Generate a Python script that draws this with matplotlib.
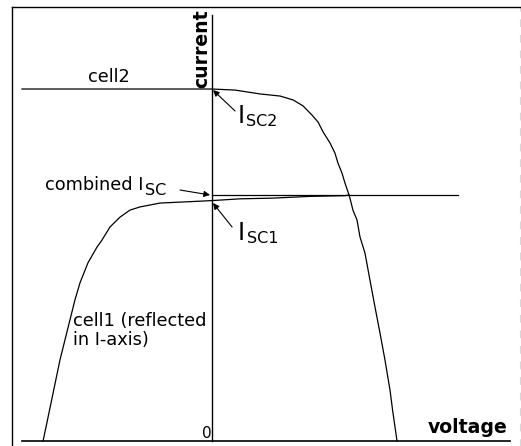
import numpy as np
import matplotlib
matplotlib.use('Agg')
import matplotlib.pyplot as plt

plt.rcParams['font.family'] = ['DejaVu Sans']

# cell2 I-V curve (voltage, current), current normalised to Isc2 = 1
cell2_v = [-1.024, 0.0, 0.126, 0.261, 0.369, 0.439, 0.493, 0.541, 0.574, 0.601, 0.638,
           0.665, 0.681, 0.703, 0.719, 0.736, 0.746, 0.762, 0.784, 0.800, 0.827,
           0.854, 0.881, 0.908, 0.935, 0.962, 0.978, 1.0]
cell2_i = [1.0, 1.0, 0.997, 0.986, 0.980, 0.969, 0.952, 0.926, 0.906, 0.878, 0.847,
           0.818, 0.790, 0.761, 0.733, 0.707, 0.690, 0.656, 0.628, 0.580, 0.534,
           0.457, 0.381, 0.307, 0.230, 0.145, 0.080, 0.0]

# cell1 curve reflected in the current axis
cell1_v = [-0.910, -0.856, -0.819, -0.792, -0.765, -0.738, -0.711, -0.668, -0.619,
           -0.592, -0.549, -0.495, -0.441, -0.387, -0.279, -0.117, 0.0, 0.153,
           0.331, 0.530, 0.719, 0.742]
cell1_i = [0.0, 0.136, 0.230, 0.287, 0.344, 0.401, 0.449, 0.506, 0.551,
           0.571, 0.608, 0.636, 0.656, 0.665, 0.676, 0.680, 0.683, 0.688,
           0.690, 0.695, 0.697, 0.699]

isc_combined = 0.699
comb_v_end = 1.329

fig = plt.figure(figsize=(5.21, 4.46), dpi=100)
ax = fig.add_axes([12/521, 0, 508/521, 439/446])
ax.set_xlim(-1.0777, 1.6636)
ax.set_ylim(-0.0142, 1.2330)
ax.set_xticks([])
ax.set_yticks([])
ax.spines['bottom'].set_visible(False)
ax.spines['left'].set_linewidth(1.0)
ax.spines['top'].set_linewidth(1.0)
ax.spines['right'].set_color('#d8d8d8')
ax.spines['right'].set_linestyle((0, (6, 8)))

# axes of the I-V plane
ax.plot([-1.024, 1.61], [0, 0], color='black', lw=1.2)
ax.plot([0, 0], [0, 1.21], color='black', lw=1.0)

ax.plot(cell2_v, cell2_i, color='black', lw=0.9)
ax.plot(cell1_v, cell1_i, color='black', lw=0.9)
ax.plot([0, comb_v_end], [isc_combined, isc_combined], color='black', lw=0.9)

arrow = dict(arrowstyle='-|>', lw=0.8, color='black', mutation_scale=9, shrinkA=0, shrinkB=0)
ax.annotate('', xy=(-0.009, isc_combined), xytext=(-0.171, 0.713), arrowprops=arrow)
ax.annotate('', xy=(0.007, 0.997), xytext=(0.126, 0.9375), arrowprops=arrow)
ax.annotate('', xy=(0.007, 0.676), xytext=(0.110, 0.608), arrowprops=arrow)

fs = 12.8


def sub_label(x, y, main, sub, size_main=fs, size_sub=11.5, drop=-4):
    t = ax.text(x, y, main, fontsize=size_main, ha='left', va='baseline')
    ax.annotate(sub, xy=(1, 0), xycoords=t, xytext=(1, drop), textcoords='offset points',
                fontsize=size_sub, ha='left', va='bottom')


ax.text(-0.667, 1.020, 'cell2', fontsize=fs, ha='left', va='baseline')
sub_label(-0.900, 0.713, 'combined I', 'SC', drop=-3)
sub_label(0.138, 0.903, 'I', 'SC2', size_main=17, drop=-0.5)
sub_label(0.142, 0.571, 'I', 'SC1', size_main=17, drop=-0.5)
ax.text(-0.748, 0.273, 'cell1 (reflected\nin I-axis)', fontsize=fs, ha='left',
        va='baseline', linespacing=1.1)
ax.text(-0.003, 0.0085, '0', fontsize=11, ha='right', va='baseline')
ax.text(-0.001, 1.003, 'current', fontsize=13.6, fontweight='bold', rotation=90,
        ha='right', va='bottom')
ax.text(1.168, 0.0227, 'voltage', fontsize=13.6, fontweight='bold', ha='left', va='baseline')

fig.savefig('out.png', dpi=100)
